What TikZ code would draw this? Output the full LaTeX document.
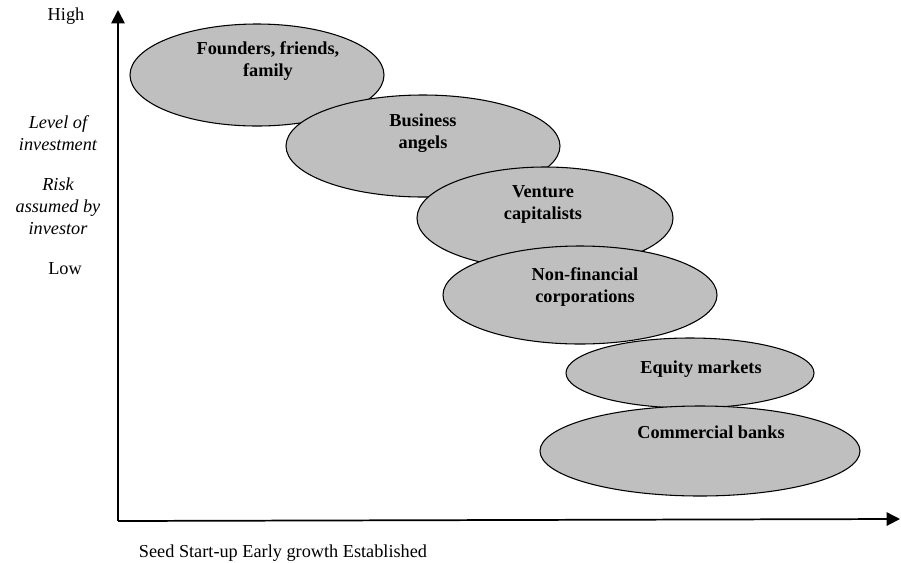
\documentclass[tikz,border=0pt]{standalone}
\usepackage{fontspec}
\setmainfont{Liberation Serif}
\usetikzlibrary{arrows.meta}
\tikzset{
  bubble/.style={draw=black, fill=black!25, line width=0.8pt},
  firm/.style={font=\fontsize{13.7}{16.5}\selectfont\bfseries, align=center},
  side/.style={font=\fontsize{13.7}{16.5}\selectfont, align=center},
  axis/.style={line width=1.3pt, -{Triangle[length=10pt, width=10pt]}}
}

\begin{document}
\begin{tikzpicture}[x=0.75pt, y=-0.75pt]
\useasboundingbox (0,0) rectangle (901,562);
\coordinate (origin) at (118,521);
\coordinate (ytop) at (118,10);
\coordinate (xend) at (900,519);
\draw[axis] (origin) -- (ytop);
\draw[axis] (origin) -- (xend);
\draw[bubble] (257,75) ellipse [x radius=127, y radius=51];
\draw[bubble] (423,146) ellipse [x radius=137, y radius=51];
\draw[bubble] (545,218) ellipse [x radius=128, y radius=51];
\draw[bubble] (580,295) ellipse [x radius=137, y radius=49];
\draw[bubble] (690,373) ellipse [x radius=124, y radius=35];
\draw[bubble] (700,451) ellipse [x radius=160, y radius=45];
\node[firm] (founders) at (268,61) {Founders, friends,\\family};
\node[firm] (angels) at (423,133) {Business\\angels};
\node[firm] (venture) at (543,204) {Venture\\capitalists};
\node[firm] (corps) at (585,287) {Non-financial\\corporations};
\node[firm] (equity) at (701,369) {Equity markets};
\node[firm] (banks) at (711,432) {Commercial banks};
\node[side] (high) at (66,16) {High};
\node[side, font=\fontsize{13.7}{16.5}\selectfont\itshape] (level) at (58,133) {Level of\\investment};
\node[side, font=\fontsize{13.7}{16.5}\selectfont\itshape] (risk) at (58,206) {Risk\\assumed by\\investor};
\node[side] (low) at (65,269) {Low};
\node[side] (stages) at (283,553) {Seed Start-up Early growth Established};
\end{tikzpicture}
\end{document}
